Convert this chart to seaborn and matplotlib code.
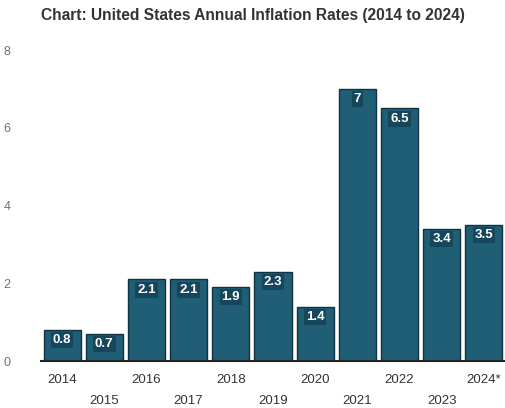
import matplotlib
matplotlib.use("Agg")
import matplotlib.pyplot as plt
import seaborn as sns
import pandas as pd

years = ["2014", "2015", "2016", "2017", "2018", "2019", "2020", "2021", "2022", "2023", "2024*"]
rates = [0.8, 0.7, 2.1, 2.1, 1.9, 2.3, 1.4, 7.0, 6.5, 3.4, 3.5]
value_labels = ["0.8", "0.7", "2.1", "2.1", "1.9", "2.3", "1.4", "7", "6.5", "3.4", "3.5"]
yticks = [0, 2, 4, 6, 8]

sns.set_style("white")
plt.rcParams['font.family'] = ['Liberation Sans', 'DejaVu Sans']

df = pd.DataFrame({"year": years, "rate": rates})

fig = plt.figure(figsize=(5.06, 4.08), dpi=100)
ax = fig.add_axes([0.081, 0.115, 0.917, 0.762])

sns.barplot(data=df, x="year", y="rate", color="#1f5e75", saturation=1,
            width=0.88, edgecolor="#0f3344", linewidth=1.0, ax=ax)

ax.set_ylim(0, 8)
ax.set_xlim(-0.5, len(years) - 0.5)
ax.set_yticks(yticks)
ax.set_yticklabels([str(t) for t in yticks], color="#707070", fontsize=9)
ax.tick_params(axis="y", length=0, pad=22)
ax.set_xlabel("")
ax.set_ylabel("")

ax.set_xticks(range(len(years)))
ax.set_xticklabels([])
ax.tick_params(axis="x", length=0)
for i, y in enumerate(years):
    off = -0.06 if i % 2 == 0 else -0.13
    ax.text(i, off, y, transform=ax.get_xaxis_transform(), ha="center", va="center",
            fontsize=9.5, color="#333333")

for s in ["top", "right", "left"]:
    ax.spines[s].set_visible(False)
ax.spines["bottom"].set_color("#222222")
ax.spines["bottom"].set_linewidth(1.5)

for i, (v, lab) in enumerate(zip(rates, value_labels)):
    ax.text(i, v - 0.26, lab, ha="center", va="center", fontsize=9.5,
            fontweight="bold", color="white",
            bbox=dict(boxstyle="square,pad=0.15", fc="#16465c", ec="none"))

fig.text(0.5, 0.963, "Chart: United States Annual Inflation Rates (2014 to 2024)",
         ha="center", va="center", fontsize=11.2, fontweight="bold", color="#333333")

fig.savefig("out.png", dpi=100)
